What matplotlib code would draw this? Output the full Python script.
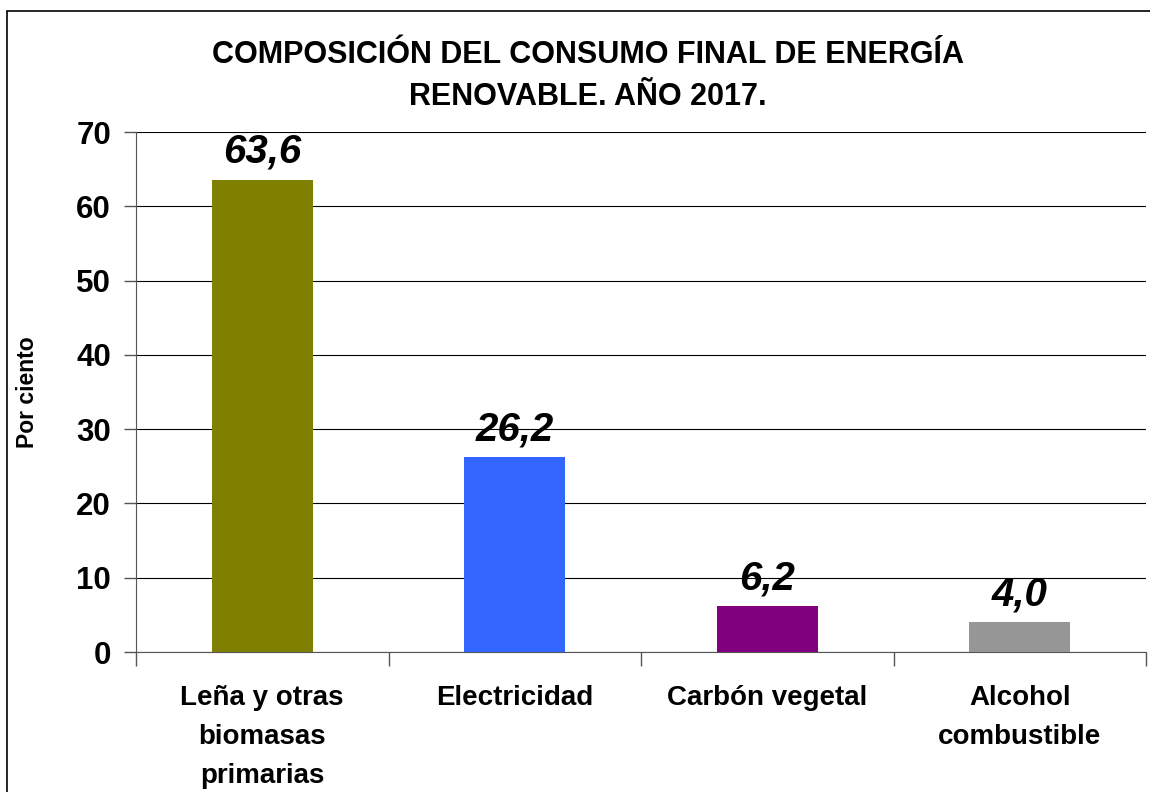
import matplotlib
matplotlib.use("Agg")
import matplotlib.pyplot as plt
from matplotlib.patches import Rectangle

plt.rcParams['font.family'] = ['Liberation Sans', 'DejaVu Sans']

categorias = ['Leña y otras\nbiomasas\nprimarias', 'Electricidad', 'Carbón vegetal', 'Alcohol\ncombustible']
valores = [63.6, 26.2, 6.2, 4.0]
etiquetas = ['63,6', '26,2', '6,2', '4,0']
colores = ['#808000', '#3366FF', '#800080', '#969696']

fig = plt.figure(figsize=(11.5, 7.92), dpi=100)
ax = fig.add_axes([136/1150, 1-652/792, (1146-136)/1150, (652-132)/792])

x = list(range(len(valores)))
ax.bar(x, valores, width=0.4, color=colores, zorder=3)
for xi, v, t in zip(x, valores, etiquetas):
    ax.text(xi, v + 1.2, t, ha='center', va='bottom', fontsize=29,
            fontweight='bold', style='italic', zorder=4)

ax.set_xlim(-0.5, len(valores) - 0.5)
ax.set_ylim(0, 70)
ax.set_yticks(range(0, 71, 10))
ax.yaxis.grid(True, color='black', linewidth=0.8, zorder=0)
ax.set_xticks([i + 0.5 for i in range(-1, len(valores))])
ax.set_xticklabels([])
ax.tick_params(axis='x', length=10, width=1, color='#555555', direction='out')
ax.tick_params(axis='y', length=9, width=1, color='#555555', labelsize=22.5, pad=9)
for lab in ax.get_yticklabels():
    lab.set_fontweight('bold')
for xi, c in zip(x, categorias):
    ax.text(xi, -4.5, c, ha='center', va='top', fontsize=20, fontweight='bold',
            linespacing=1.65)

for s in ['top', 'right']:
    ax.spines[s].set_visible(False)
ax.spines['left'].set_color('#555555')
ax.spines['bottom'].set_color('#555555')

ax.set_ylabel('Por ciento', fontsize=16.5, fontweight='bold')
ax.yaxis.set_label_coords(-0.096, 0.5)

fig.text(588/1150, 1-55/792, 'COMPOSICIÓN DEL CONSUMO FINAL DE ENERGÍA',
         ha='center', va='center', fontsize=22, fontweight='bold')
fig.text(588/1150, 1-97/792, 'RENOVABLE. AÑO 2017.',
         ha='center', va='center', fontsize=22, fontweight='bold')

fig.patches.append(Rectangle((7/1150, -0.05), 1.2, 1.05 - 11/792, transform=fig.transFigure,
                             fill=False, edgecolor='black', linewidth=1.2))

fig.savefig('out.png', dpi=100)
